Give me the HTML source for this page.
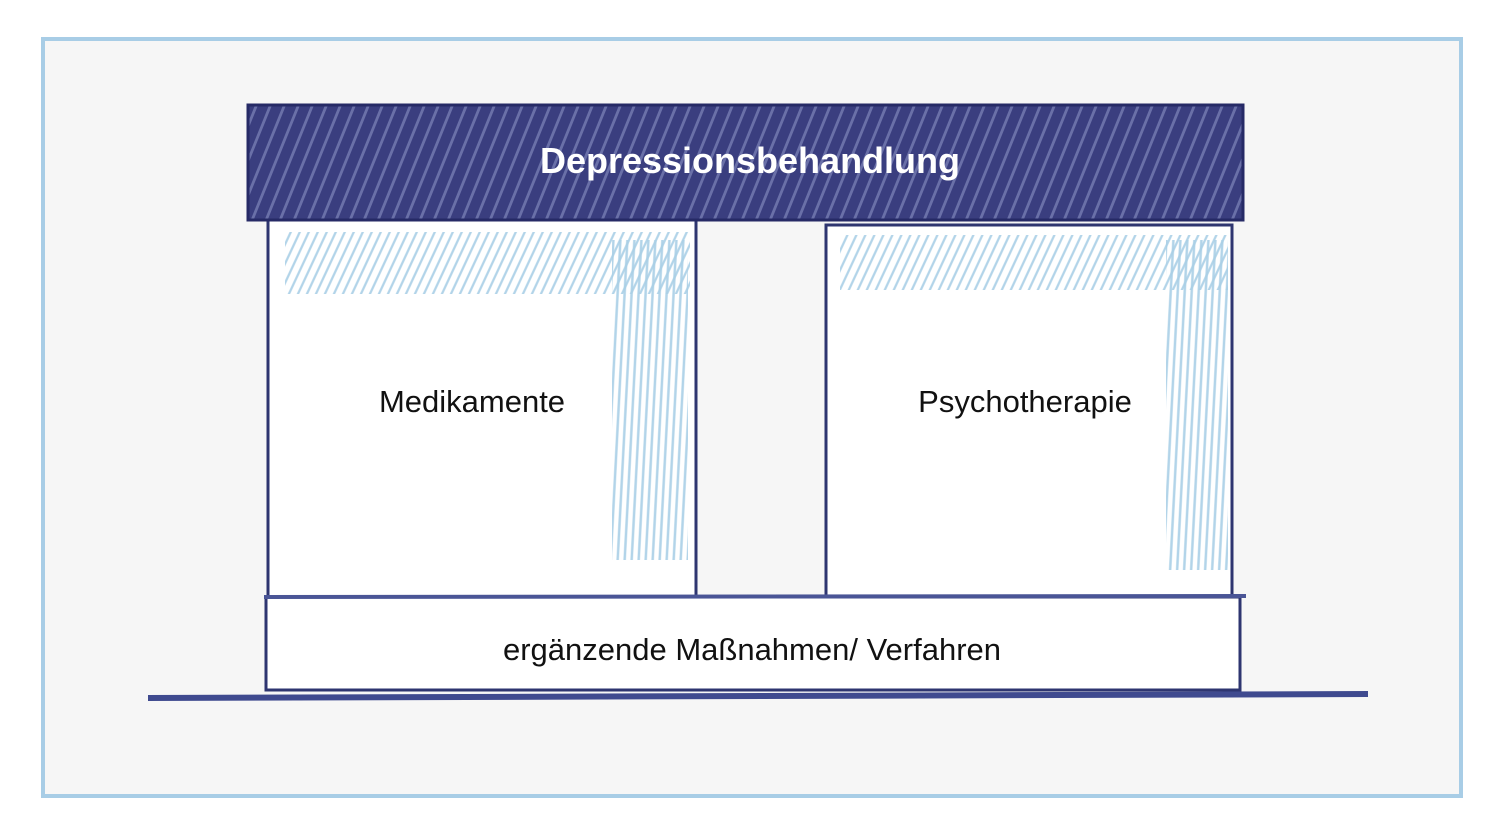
<!DOCTYPE html>
<html><head><meta charset="utf-8"><style>
html,body{margin:0;padding:0;background:#fff;}
svg{display:block;}
text{font-family:"Liberation Sans",sans-serif;}
</style></head><body>
<svg width="1500" height="831" viewBox="0 0 1500 831" xmlns="http://www.w3.org/2000/svg">
<defs>
<pattern id="dk" width="14" height="120" patternUnits="userSpaceOnUse" patternTransform="skewX(-22)">
<rect width="14" height="120" fill="#3a3e7f"/>
<line x1="5" y1="0" x2="5" y2="120" stroke="#6a70a8" stroke-width="3"/>
</pattern>
<pattern id="lt" width="9" height="80" patternUnits="userSpaceOnUse" patternTransform="skewX(-25)">
<line x1="3" y1="0" x2="3" y2="80" stroke="#a9cfe6" stroke-width="2.5"/>
</pattern>
<pattern id="lv" width="7" height="80" patternUnits="userSpaceOnUse" patternTransform="skewX(-3)">
<line x1="3" y1="0" x2="3" y2="80" stroke="#a9cfe6" stroke-width="2.5"/>
</pattern>
</defs>
<rect x="0" y="0" width="1500" height="831" fill="#fff"/>
<rect x="43" y="39" width="1418" height="757" fill="#f6f6f6" stroke="#a8cde6" stroke-width="4"/>
<!-- pillars -->
<rect x="268" y="220" width="428" height="378" fill="#fff"/>
<rect x="826" y="225" width="406" height="373" fill="#fff"/>
<rect x="285" y="232" width="405" height="62" fill="url(#lt)" opacity="0.9"/>
<rect x="612" y="240" width="76" height="320" fill="url(#lv)" opacity="0.9"/>
<rect x="840" y="235" width="388" height="55" fill="url(#lt)" opacity="0.9"/>
<rect x="1166" y="240" width="62" height="330" fill="url(#lv)" opacity="0.9"/>
<rect x="268" y="220" width="428" height="378" fill="none" stroke="#2e3570" stroke-width="3"/>
<rect x="826" y="225" width="406" height="373" fill="none" stroke="#2e3570" stroke-width="3"/>
<!-- bottom -->
<rect x="266" y="597" width="974" height="93" fill="#fff" stroke="#2e3570" stroke-width="3"/>
<line x1="264" y1="597" x2="1246" y2="596" stroke="#4a5596" stroke-width="4"/>
<line x1="148" y1="698" x2="1368" y2="694" stroke="#3f4a8f" stroke-width="6"/>
<!-- top bar -->
<rect x="248" y="105" width="995" height="115" fill="url(#dk)" stroke="#262a66" stroke-width="3"/>
<text x="750" y="173" text-anchor="middle" font-size="36" font-weight="bold" fill="#fff">Depressionsbehandlung</text>
<text x="472" y="412" text-anchor="middle" font-size="31" fill="#111">Medikamente</text>
<text x="1025" y="412" text-anchor="middle" font-size="31" fill="#111">Psychotherapie</text>
<text x="752" y="660" text-anchor="middle" font-size="31" fill="#111">ergänzende Maßnahmen/ Verfahren</text>
</svg>
</body></html>
